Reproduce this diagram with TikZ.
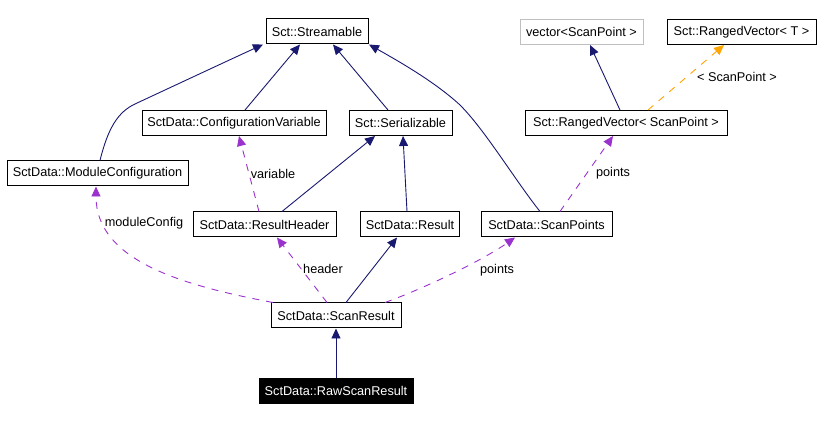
\documentclass[tikz,border=0pt]{standalone}
\usepackage{fontspec}
\setmainfont{Liberation Sans}
\usetikzlibrary{arrows.meta}
\definecolor{navyedge}{RGB}{25,25,112}
\definecolor{purpedge}{RGB}{154,50,205}
\definecolor{orangeedge}{RGB}{255,165,0}
\definecolor{grayborder}{RGB}{191,191,191}
\tikzset{
  cls/.style={draw=black, line width=1pt, inner sep=0pt, minimum height=25pt, font=\fontsize{12.7}{15}\selectfont, fill=white},
  grayclass/.style={cls, draw=grayborder},
  mainclass/.style={cls, fill=black, text=white},
  lbl/.style={inner sep=0pt, font=\fontsize{12.7}{15}\selectfont},
  inherit/.style={draw=navyedge, line width=0.9pt, -{Triangle[length=10pt,width=9pt,fill=navyedge]}},
  usage/.style={draw=purpedge, line width=0.9pt, dash pattern=on 7pt off 7pt, -{Triangle[length=10pt,width=9pt,fill=purpedge]}},
  templ/.style={draw=orangeedge, line width=0.9pt, dash pattern=on 7pt off 7pt, -{Triangle[length=10pt,width=9pt,fill=orangeedge]}}
}
\begin{document}
\begin{tikzpicture}[x=1pt,y=-1pt]
\useasboundingbox (0,0) rectangle (828,422);
% nodes
\node[cls, minimum width=102pt] (str) at (317,31.5) {Sct::Streamable};
\node[grayclass, minimum width=123pt] (vec) at (581.5,32) {vector{<}ScanPoint >};
\node[cls, minimum width=149pt] (rvt) at (741.5,32) {Sct::RangedVector< T >};
\node[cls, minimum width=184pt] (cv) at (234,123) {SctData::ConfigurationVariable};
\node[cls, minimum width=103pt] (ser) at (400.5,123) {Sct::Serializable};
\node[cls, minimum width=202pt] (rvsp) at (626,123) {Sct::RangedVector< ScanPoint >};
\node[cls, minimum width=181pt] (mc) at (97.5,173.5) {SctData::ModuleConfiguration};
\node[cls, minimum width=143pt] (rh) at (264.5,224.5) {SctData::ResultHeader};
\node[cls, minimum width=99pt] (res) at (410,224.5) {SctData::Result};
\node[cls, minimum width=131pt] (sp) at (546.5,224.5) {SctData::ScanPoints};
\node[cls, minimum width=130pt] (sr) at (336,315.5) {SctData::ScanResult};
\node[mainclass, minimum width=154pt] (raw) at (336,390.5) {SctData::RawScanResult};
% inheritance edges
\draw[inherit] ([xshift=2.5pt]mc.north) .. controls (108,128) and (118,112) .. (135,104) .. controls (180,83) and (225,62) .. ([xshift=-54pt]str.south);
\draw[inherit] ([xshift=11pt]cv.north) -- ([xshift=-17pt]str.south);
\draw[inherit] ([xshift=-12.5pt]ser.north) -- ([xshift=16pt]str.south);
\draw[inherit] ([xshift=-6.5pt]sp.north) .. controls (515,180) and (485,130) .. (460,105) .. controls (435,82) and (400,62) .. ([xshift=52pt]str.south);
\draw[inherit] ([xshift=17.5pt]rh.north) -- ([xshift=-25.5pt]ser.south);
\draw[inherit] ([xshift=-3pt]res.north) -- ([xshift=2.5pt]ser.south);
\draw[inherit] ([xshift=-6pt]rvsp.north) -- ([xshift=8.5pt]vec.south);
\draw[inherit] ([xshift=10pt]sr.north) -- ([xshift=-13pt]res.south);
\draw[inherit] (raw.north) -- (sr.south);
% template edge
\draw[templ] ([xshift=22pt]rvsp.north) -- ([xshift=-17.5pt]rvt.south);
\node[lbl] (lt) at (737,77) {< ScanPoint >};
% usage edges
\draw[usage] ([xshift=13.5pt]sp.north) -- ([xshift=-13pt]rvsp.south);
\node[lbl] (lp1) at (613,173) {points};
\draw[usage] ([xshift=-5.5pt]rh.north) -- ([xshift=5pt]cv.south);
\node[lbl] (lv) at (273,174) {variable};
\draw[usage] ([xshift=-63pt]sr.north) .. controls (180,285) and (96,260) .. ([xshift=-1.5pt]mc.south);
\node[lbl] (lm) at (144,223) {moduleConfig};
\draw[usage] ([xshift=-9pt]sr.north) -- ([xshift=12.5pt]rh.south);
\node[lbl] (lh) at (323,269) {header};
\draw[usage] ([xshift=49pt]sr.north) .. controls (420,290) and (480,262) .. ([xshift=-31.5pt]sp.south);
\node[lbl] (lp2) at (497,270) {points};
\end{tikzpicture}
\end{document}
